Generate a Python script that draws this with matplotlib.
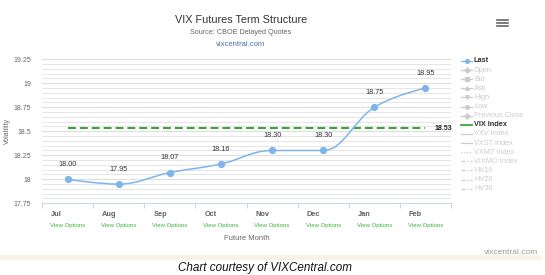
import numpy as np
import matplotlib
matplotlib.use("Agg")
import matplotlib.pyplot as plt
from matplotlib.path import Path
from matplotlib.patches import PathPatch, Rectangle
from matplotlib.lines import Line2D

plt.rcParams['font.family'] = ['Liberation Sans', 'DejaVu Sans']

months = ["Jul", "Aug", "Sep", "Oct", "Nov", "Dec", "Jan", "Feb"]
last = [18.00, 17.95, 18.07, 18.16, 18.30, 18.30, 18.75, 18.95]
vix_index = 18.53
y_ticks = [17.75, 18, 18.25, 18.5, 18.75, 19, 19.25]
y_tick_labels = ["17.75", "18", "18.25", "18.5", "18.75", "19", "19.25"]
legend_items = ["Last", "Open", "Bid", "Ask", "High", "Low", "Previous Close",
                "VIX Index", "VXV Index", "VXST Index", "VXMT Index", "VIXMO Index",
                "HV10", "HV20", "HV30"]

W, H = 545, 275
BLUE = "#7cb5ec"
GREEN = "#3aa53a"
GRID = "#e6e6e6"
GREY = "#cccccc"


def fx(px):
    return px / W


def fy(py):
    return 1 - py / H


def spline_path(xs, ys, smoothing=1.5):
    # highcharts style spline control points
    n = len(xs)
    denom = smoothing + 1
    left = [None] * n
    right = [None] * n
    for i in range(1, n - 1):
        x, y = xs[i], ys[i]
        lx, ly = xs[i - 1], ys[i - 1]
        nx, ny = xs[i + 1], ys[i + 1]
        lcx = (smoothing * x + lx) / denom
        lcy = (smoothing * y + ly) / denom
        rcx = (smoothing * x + nx) / denom
        rcy = (smoothing * y + ny) / denom
        corr = (rcy - lcy) * (rcx - x) / (rcx - lcx) + y - rcy
        lcy += corr
        rcy += corr
        if lcy > ly and lcy > y:
            lcy = max(ly, y); rcy = 2 * y - lcy
        elif lcy < ly and lcy < y:
            lcy = min(ly, y); rcy = 2 * y - lcy
        if rcy > ny and rcy > y:
            rcy = max(ny, y); lcy = 2 * y - rcy
        elif rcy < ny and rcy < y:
            rcy = min(ny, y); lcy = 2 * y - rcy
        left[i] = (lcx, lcy)
        right[i] = (rcx, rcy)
    verts = [(xs[0], ys[0])]
    codes = [Path.MOVETO]
    for i in range(1, n):
        c1 = right[i - 1] if right[i - 1] else (xs[i - 1], ys[i - 1])
        c2 = left[i] if left[i] else (xs[i], ys[i])
        verts += [c1, c2, (xs[i], ys[i])]
        codes += [Path.CURVE4] * 3
    return Path(verts, codes)


fig = plt.figure(figsize=(W / 100, H / 100), dpi=100)
fig.patch.set_facecolor("white")

# plot area in pixels
pl, pr, pt, pb = 42, 451, 59.3, 203.3
ax = fig.add_axes([fx(pl), fy(pb), fx(pr - pl), (pb - pt) / H])
ax.set_facecolor("white")
x = np.arange(len(months))
ax.set_xlim(-0.5, len(months) - 0.5)
ax.set_ylim(17.75, 19.25)

for v in np.arange(17.80, 19.25, 0.05):
    ax.axhline(v, color=GRID, lw=0.7, zorder=0)
for v in y_ticks:
    ax.axhline(v, color="#dedede", lw=0.8, zorder=0)

for s in ["top", "right", "left"]:
    ax.spines[s].set_visible(False)
ax.spines["bottom"].set_color("#ccd6eb")
ax.spines["bottom"].set_linewidth(0.8)
ax.set_xticks(np.arange(-0.5, len(months), 1.0))
ax.set_xticklabels([])
ax.tick_params(axis="x", length=3.5, color="#ccd6eb", width=0.8)
ax.set_yticks(y_ticks)
ax.set_yticklabels(y_tick_labels)
ax.tick_params(axis="y", length=0, labelsize=5, labelcolor="#666666", pad=8)

# VIX index line
ax.plot([x[0], x[-1]], [vix_index, vix_index], color=GREEN, lw=1.5,
        dashes=(3.8, 1.9), zorder=3)
ax.text(x[-1] + 0.18, vix_index, "%.2f" % vix_index, fontsize=5, fontweight="bold",
        color="#222222", va="center", ha="left")

# Last series
ax.add_patch(PathPatch(spline_path(list(x), last), fc="none", ec=BLUE, lw=1.1, zorder=4))
ax.plot(x, last, "o", color=BLUE, ms=4.2, zorder=5)
for xi, v in zip(x, last):
    ax.annotate("%.2f" % v, (xi, v), xytext=(0, 8), textcoords="offset points",
                ha="center", va="bottom", fontsize=5.2, color="#333333")

# category labels
for i, m in enumerate(months):
    cx = pl + (i + 0.5) * (pr - pl) / len(months)
    fig.text(fx(cx), fy(226), "View Options", fontsize=4.3, color="#3cb43c",
             ha="center", va="center")
    fig.text(fx(cx - 16.5), fy(215), m, fontsize=5.3, color="#606060",
             ha="left", va="center", fontweight="bold")

fig.text(fx((pl + pr) / 2), fy(238), "Future Month", fontsize=5.5, color="#666666",
         ha="center", va="center")
fig.text(fx(7), fy(131), "Volatility", fontsize=5, color="#666666", rotation=90,
         ha="center", va="center")

# titles
fig.text(fx(241), fy(20), "VIX Futures Term Structure", fontsize=7.8, color="#333333",
         ha="center", va="center")
fig.text(fx(241), fy(32), "Source: CBOE Delayed Quotes", fontsize=5.2, color="#666666",
         ha="center", va="center")
fig.text(fx(241), fy(44), "vixcentral.com", fontsize=5.5, color="#4572a7",
         ha="center", va="center")

# menu icon
for yy in (19.5, 22.5, 25.5):
    fig.add_artist(Line2D([fx(497), fx(508)], [fy(yy), fy(yy)], color="#666666",
                          lw=1.2, transform=fig.transFigure))

# legend
markers = {"Last": "o", "Open": "D", "Bid": "s", "Ask": "^", "High": "v",
           "Low": "o", "Previous Close": "D"}
styles = {"VXMT Index": (0, (1, 1.2)), "VIXMO Index": (0, (3, 1.5, 1, 1.5)),
          "HV10": (0, (3, 1.5, 1, 1.5)), "HV20": (0, (3, 1.5, 1, 1.5)),
          "HV30": (0, (3, 1.5, 1, 1.5))}
for k, name in enumerate(legend_items):
    yy = 61 + k * 9.12
    active = name in ("Last", "VIX Index")
    if name == "Last":
        col = BLUE
    elif name == "VIX Index":
        col = GREEN
    else:
        col = GREY
    ls = styles.get(name, "-")
    lw = 1.3 if name == "VIX Index" else 0.9
    fig.add_artist(Line2D([fx(461), fx(472)], [fy(yy), fy(yy)], color=col, lw=lw,
                          ls=ls, transform=fig.transFigure))
    if name in markers:
        fig.add_artist(Line2D([fx(466.5)], [fy(yy)], marker=markers[name], ms=2.6,
                              color=col, mec=col, transform=fig.transFigure))
    fig.text(fx(474), fy(yy), name, fontsize=5.3, va="center", ha="left",
             color="#333333" if active else GREY,
             fontweight="bold" if active else "normal")

fig.text(fx(538), fy(252), "vixcentral.com", fontsize=6, color="#999999",
         ha="right", va="center")
fig.add_artist(Rectangle((0, fy(259)), fx(540), 4 / H, color="#f8f3e6",
                         transform=fig.transFigure))
fig.text(fx(265), fy(267.5), "Chart courtesy of VIXCentral.com", fontsize=8.4,
         style="italic", color="#111111", ha="center", va="center")

fig.savefig("out.png", dpi=100)
